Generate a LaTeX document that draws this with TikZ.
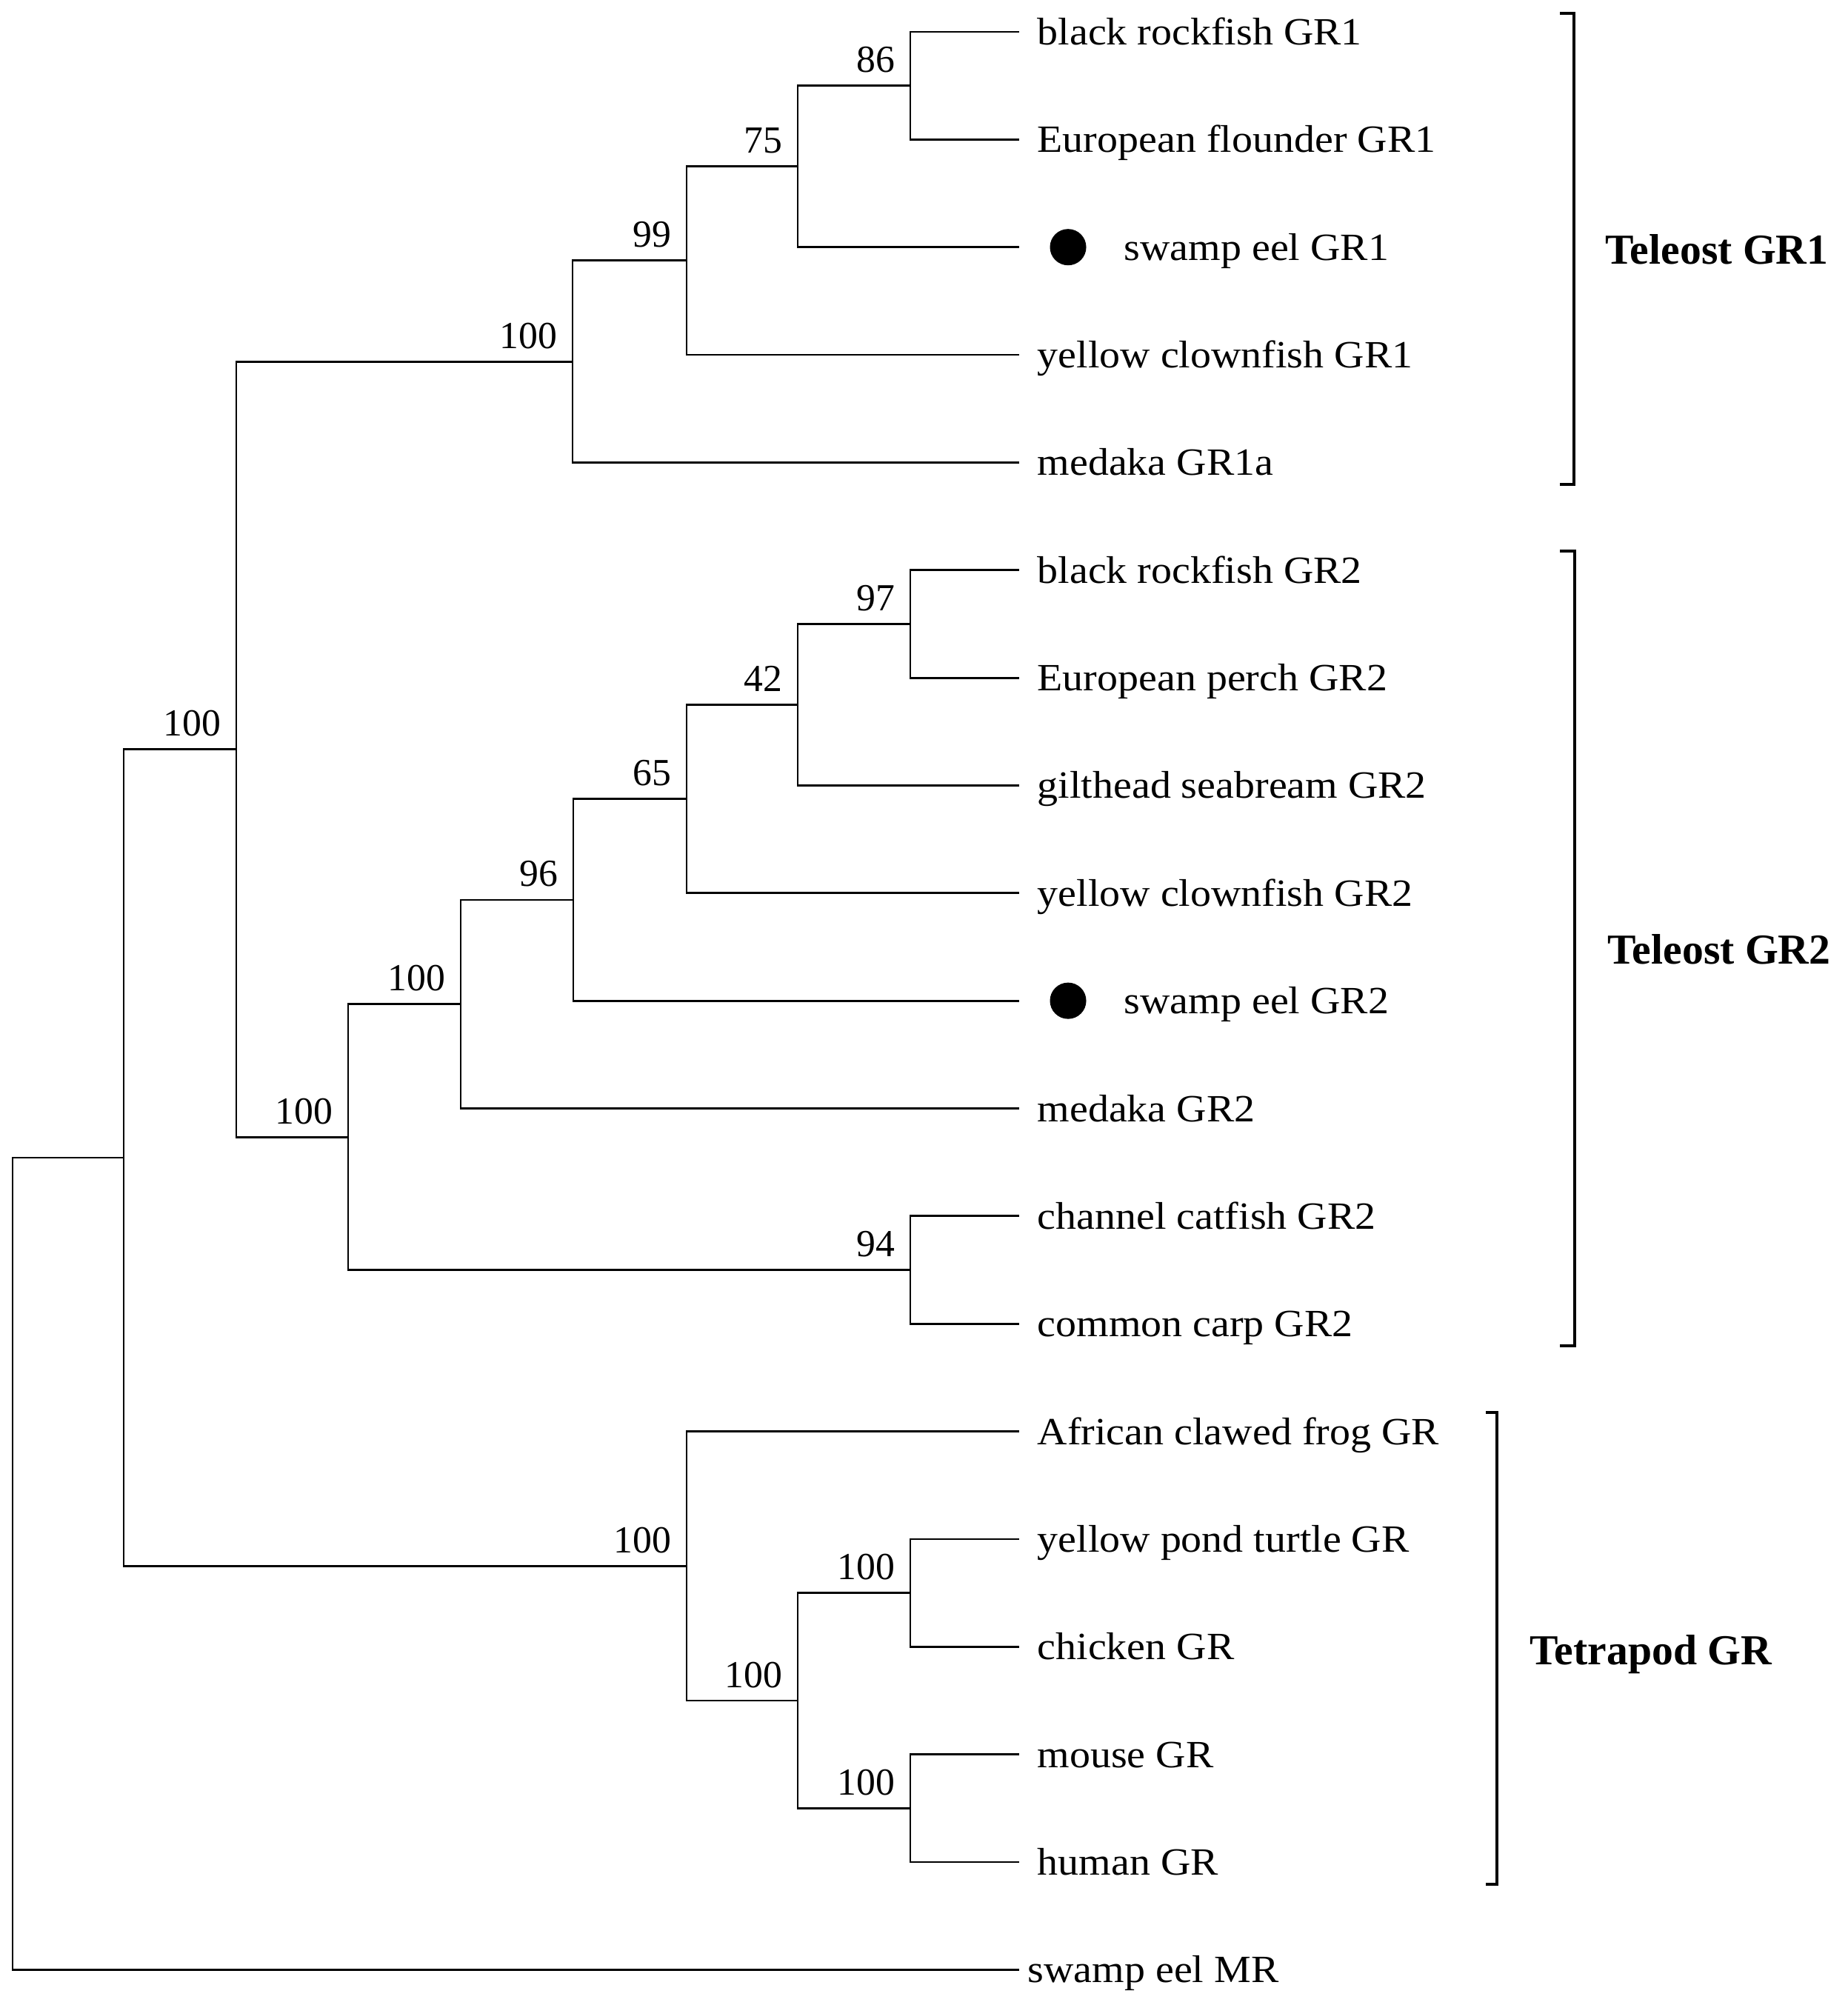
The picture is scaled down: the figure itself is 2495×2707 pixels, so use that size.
\documentclass[tikz,border=0pt]{standalone}
\usepackage{fontspec}
\setmainfont{Liberation Serif}
\newfontfamily\leaffam{Liberation Serif}[FakeStretch=1.075]
\begin{document}
\begin{tikzpicture}[x=0.01cm, y=-0.01cm,
  br/.style={line width=0.8pt, line cap=rect},
  brk/.style={line width=0.95pt},
  leaf/.style={anchor=base west, inner sep=0pt, font=\leaffam\fontsize{14.8pt}{17pt}\selectfont},
  bs/.style={anchor=base east, inner sep=0pt, font=\fontsize{14.7pt}{17pt}\selectfont},
  grp/.style={anchor=base west, inner sep=0pt, font=\bfseries\fontsize{16.4pt}{19pt}\selectfont},
  dotmark/.style={circle, fill=black, inner sep=0pt, minimum size=0.49cm}]
\useasboundingbox (0,0) rectangle (2495,2707);

% leaf line ends
\coordinate (t1) at (1375,43.0);
\coordinate (t2) at (1375,188.35);
\coordinate (t3) at (1375,333.7);
\coordinate (t4) at (1375,479.05);
\coordinate (t5) at (1375,624.4);
\coordinate (t6) at (1375,769.75);
\coordinate (t7) at (1375,915.1);
\coordinate (t8) at (1375,1060.45);
\coordinate (t9) at (1375,1205.8);
\coordinate (t10) at (1375,1351.15);
\coordinate (t11) at (1375,1496.5);
\coordinate (t12) at (1375,1641.85);
\coordinate (t13) at (1375,1787.2);
\coordinate (t14) at (1375,1932.55);
\coordinate (t15) at (1375,2077.9);
\coordinate (t16) at (1375,2223.25);
\coordinate (t17) at (1375,2368.6);
\coordinate (t18) at (1375,2513.95);
\coordinate (t19) at (1375,2659.3);

% internal nodes
\coordinate (n86) at (1229,115.7);
\coordinate (n75) at (1077,224.7);
\coordinate (n99) at (927,351.9);
\coordinate (nG1) at (773,488.1);
\coordinate (n97) at (1229,842.4);
\coordinate (n42) at (1077,951.4);
\coordinate (n65) at (927,1078.6);
\coordinate (n96) at (774,1214.9);
\coordinate (nM) at (622,1355.7);
\coordinate (n94) at (1229,1714.5);
\coordinate (nG2) at (470,1535.1);
\coordinate (nB) at (319,1011.6);
\coordinate (nTC) at (1229,2150.6);
\coordinate (nMH) at (1229,2441.3);
\coordinate (nBM) at (1077,2296.0);
\coordinate (nT) at (927,2114.3);
\coordinate (nA) at (167,1563.0);
\coordinate (root) at (17,2111.2);

% branches
\draw[br] (n86) |- (t1);  \draw[br] (n86) |- (t2);
\draw[br] (n75) |- (n86); \draw[br] (n75) |- (t3);
\draw[br] (n99) |- (n75); \draw[br] (n99) |- (t4);
\draw[br] (nG1) |- (n99); \draw[br] (nG1) |- (t5);
\draw[br] (n97) |- (t6);  \draw[br] (n97) |- (t7);
\draw[br] (n42) |- (n97); \draw[br] (n42) |- (t8);
\draw[br] (n65) |- (n42); \draw[br] (n65) |- (t9);
\draw[br] (n96) |- (n65); \draw[br] (n96) |- (t10);
\draw[br] (nM) |- (n96);  \draw[br] (nM) |- (t11);
\draw[br] (n94) |- (t12); \draw[br] (n94) |- (t13);
\draw[br] (nG2) |- (nM);  \draw[br] (nG2) |- (n94);
\draw[br] (nB) |- (nG1);  \draw[br] (nB) |- (nG2);
\draw[br] (nTC) |- (t15); \draw[br] (nTC) |- (t16);
\draw[br] (nMH) |- (t17); \draw[br] (nMH) |- (t18);
\draw[br] (nBM) |- (nTC); \draw[br] (nBM) |- (nMH);
\draw[br] (nT) |- (t14);  \draw[br] (nT) |- (nBM);
\draw[br] (nA) |- (nB);   \draw[br] (nA) |- (nT);
\draw[br] (root) |- (nA); \draw[br] (root) |- (t19);

% bootstrap values
\node[bs] (b86) at ([shift={(-20,-18)}]n86) {86};
\node[bs] (b75) at ([shift={(-20,-18)}]n75) {75};
\node[bs] (b99) at ([shift={(-20,-18)}]n99) {99};
\node[bs] (bG1) at ([shift={(-20,-18)}]nG1) {100};
\node[bs] (b97) at ([shift={(-20,-18)}]n97) {97};
\node[bs] (b42) at ([shift={(-20,-18)}]n42) {42};
\node[bs] (b65) at ([shift={(-20,-18)}]n65) {65};
\node[bs] (b96) at ([shift={(-20,-18)}]n96) {96};
\node[bs] (bM) at ([shift={(-20,-18)}]nM) {100};
\node[bs] (b94) at ([shift={(-20,-18)}]n94) {94};
\node[bs] (bG2) at ([shift={(-20,-18)}]nG2) {100};
\node[bs] (bB) at ([shift={(-20,-18)}]nB) {100};
\node[bs] (bTC) at ([shift={(-20,-18)}]nTC) {100};
\node[bs] (bMH) at ([shift={(-20,-18)}]nMH) {100};
\node[bs] (bBM) at ([shift={(-20,-18)}]nBM) {100};
\node[bs] (bT) at ([shift={(-20,-18)}]nT) {100};

% leaf labels
\node[leaf] (l1) at ([shift={(25,17.5)}]t1) {black rockfish GR1};
\node[leaf] (l2) at ([shift={(25,17.5)}]t2) {European flounder GR1};
\node[dotmark] (d3) at ([shift={(67,0)}]t3) {};
\node[leaf] (l3) at ([shift={(142,17.5)}]t3) {swamp eel GR1};
\node[leaf] (l4) at ([shift={(25,17.5)}]t4) {yellow clownfish GR1};
\node[leaf] (l5) at ([shift={(25,17.5)}]t5) {medaka GR1a};
\node[leaf] (l6) at ([shift={(25,17.5)}]t6) {black rockfish GR2};
\node[leaf] (l7) at ([shift={(25,17.5)}]t7) {European perch GR2};
\node[leaf] (l8) at ([shift={(25,17.5)}]t8) {gilthead seabream GR2};
\node[leaf] (l9) at ([shift={(25,17.5)}]t9) {yellow clownfish GR2};
\node[dotmark] (d10) at ([shift={(67,0)}]t10) {};
\node[leaf] (l10) at ([shift={(142,17.5)}]t10) {swamp eel GR2};
\node[leaf] (l11) at ([shift={(25,17.5)}]t11) {medaka GR2};
\node[leaf] (l12) at ([shift={(25,17.5)}]t12) {channel catfish GR2};
\node[leaf] (l13) at ([shift={(25,17.5)}]t13) {common carp GR2};
\node[leaf] (l14) at ([shift={(25,17.5)}]t14) {African clawed frog GR};
\node[leaf] (l15) at ([shift={(25,17.5)}]t15) {yellow pond turtle GR};
\node[leaf] (l16) at ([shift={(25,17.5)}]t16) {chicken GR};
\node[leaf] (l17) at ([shift={(25,17.5)}]t17) {mouse GR};
\node[leaf] (l18) at ([shift={(25,17.5)}]t18) {human GR};
\node[leaf] (l19) at ([shift={(12,17.5)}]t19) {swamp eel MR};

% group brackets
\draw[brk] (2106,18) -- (2125,18) -- (2125,654) -- (2106,654);
\draw[brk] (2106,744) -- (2126,744) -- (2126,1817) -- (2106,1817);
\draw[brk] (2006,1907) -- (2021,1907) -- (2021,2544) -- (2006,2544);
\node[grp] (g1) at (2167,357) {Teleost GR1};
\node[grp] (g2) at (2170,1301) {Teleost GR2};
\node[grp] (g3) at (2065,2247) {Tetrapod GR};
\end{tikzpicture}
\end{document}
